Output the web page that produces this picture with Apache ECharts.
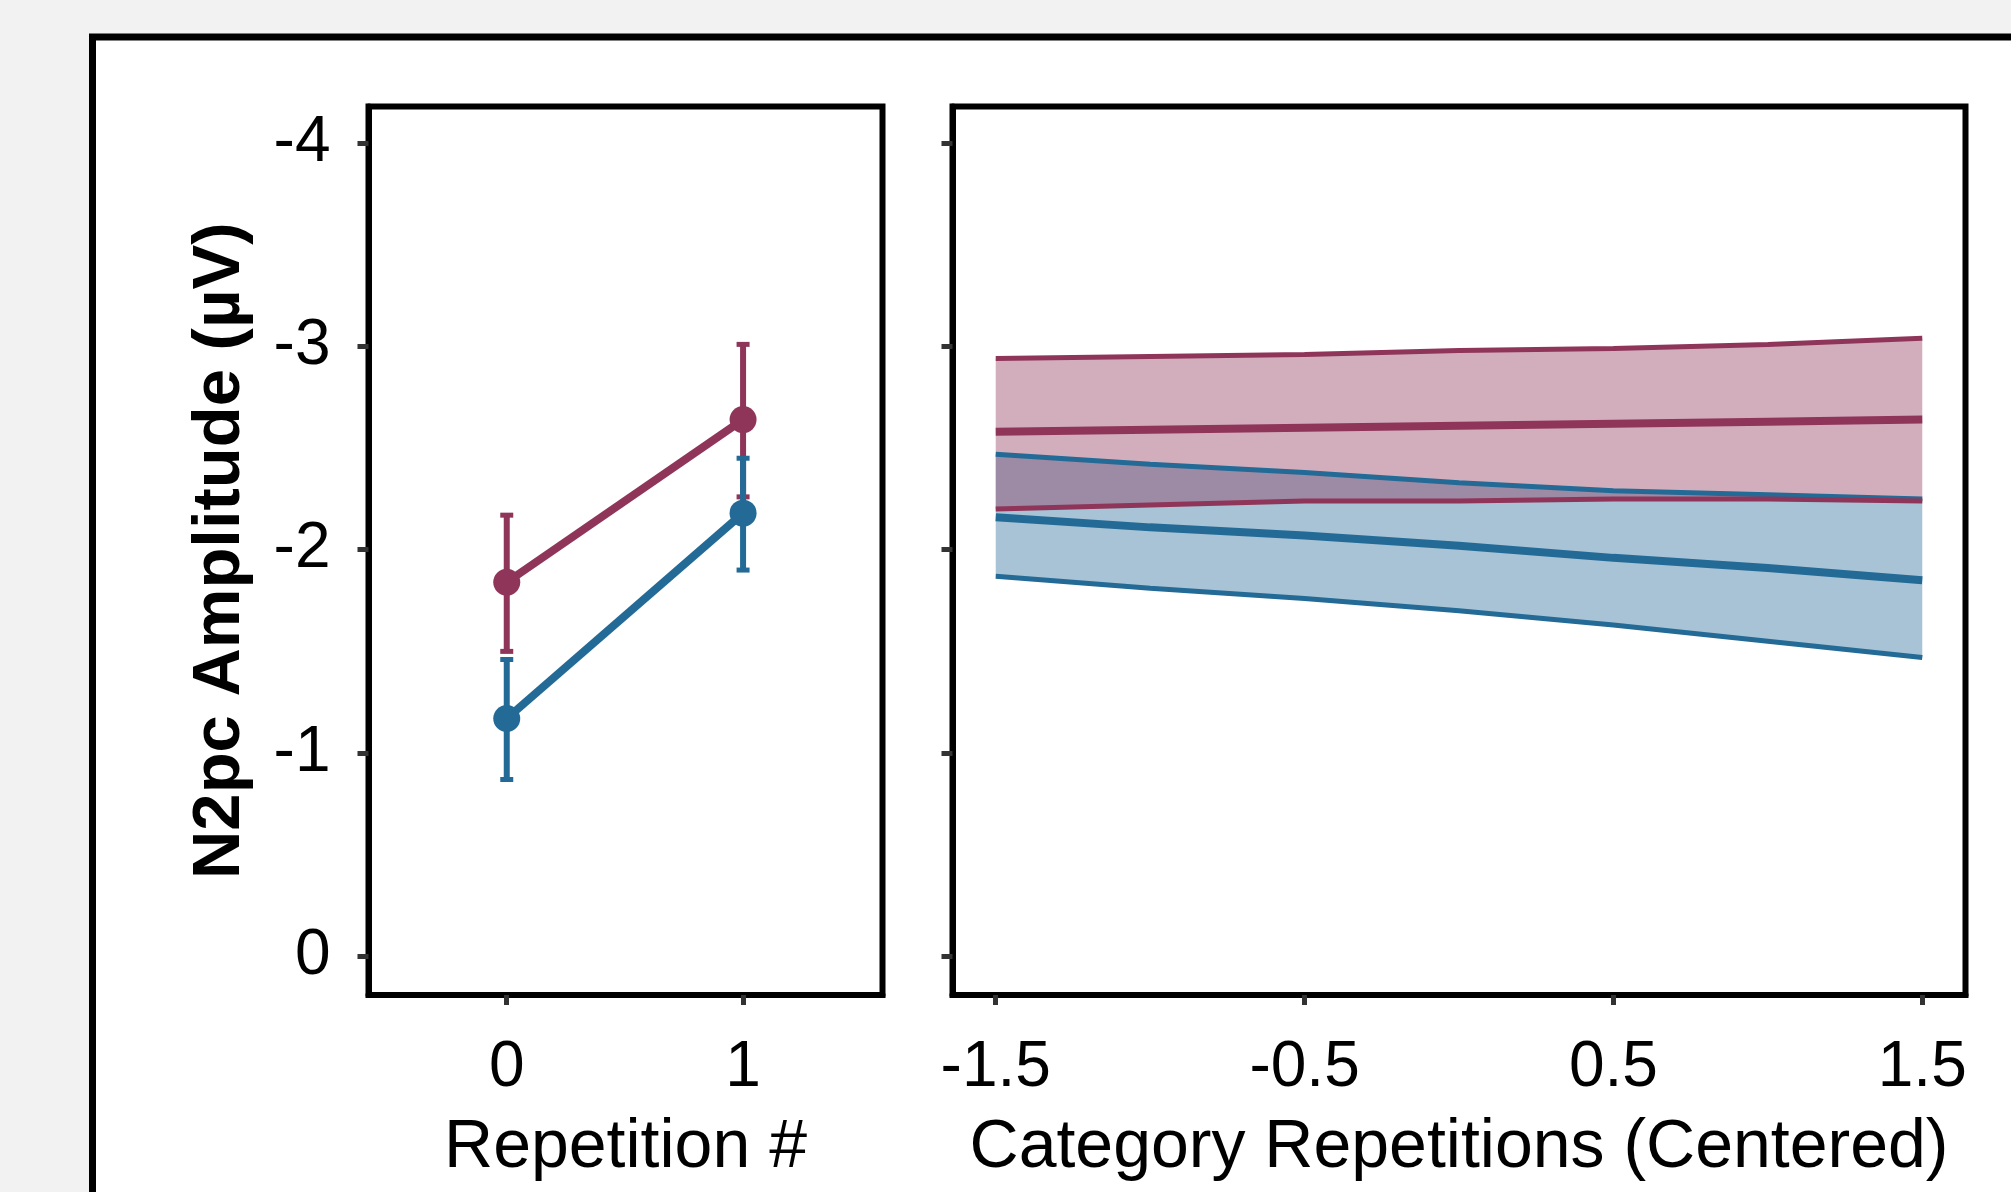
<!DOCTYPE html>
<html>
<head>
<meta charset="utf-8">
<script src="https://cdn.jsdelivr.net/npm/echarts@6/dist/echarts.min.js"></script>
<style>
  html, body { margin: 0; padding: 0; background: #f2f2f2; }
  #main { width: 2011px; height: 1192px; }
</style>
</head>
<body>
<div id="main"></div>
<script>
// left panel: N2pc by repetition (mean with error bars)
var repetition = [0, 1];
var redMean = [-1.84, -2.64];
var redErrHigh = [-2.17, -3.01];
var redErrLow = [-1.50, -2.26];
var blueMean = [-1.17, -2.18];
var blueErrHigh = [-1.46, -2.45];
var blueErrLow = [-0.87, -1.90];

// right panel: model fits over centered category repetitions
var centered = [-1.5, -1, -0.5, 0, 0.5, 1, 1.5];
var redFitUpper = [-2.94, -2.95, -2.96, -2.98, -2.99, -3.01, -3.04];
var redFit = [-2.58, -2.59, -2.60, -2.61, -2.62, -2.63, -2.64];
var redFitLower = [-2.20, -2.22, -2.24, -2.24, -2.25, -2.25, -2.24];
var blueFitUpper = [-2.47, -2.42, -2.38, -2.33, -2.29, -2.27, -2.25];
var blueFit = [-2.16, -2.11, -2.07, -2.02, -1.96, -1.91, -1.85];
var blueFitLower = [-1.87, -1.81, -1.76, -1.70, -1.63, -1.55, -1.47];

var yTicks = [-4, -3, -2, -1, 0];
var leftTicks = [0, 1];
var rightTicks = [-1.5, -0.5, 0.5, 1.5];

var RED = '#8f3559';
var BLUE = '#246a96';
var FONT = 'Liberation Sans';

var myChart = echarts.init(document.getElementById('main'));

var pairs = function(xs, ys) {
    return xs.map(function(x, i) { return [x, ys[i]]; });
};

var bandItem = function(xs, upper, lower, color) {
    return function(params, api) {
        if (params.dataIndex !== 0) {
            return;
        }
        var pts = [];
        for (var i = 0; i < xs.length; i++) {
            pts.push(api.coord([xs[i], upper[i]]));
        }
        for (var j = xs.length - 1; j >= 0; j--) {
            pts.push(api.coord([xs[j], lower[j]]));
        }
        return {
            type: 'polygon',
            shape: { points: pts },
            style: { fill: color, opacity: 0.4 }
        };
    };
};

var errorBarItem = function(color) {
    return function(params, api) {
        var x = api.value(0);
        var lo = api.coord([x, api.value(1)]);
        var hi = api.coord([x, api.value(2)]);
        var half = 6.5;
        return {
            type: 'group',
            children: [{
                type: 'line',
                shape: { x1: lo[0], y1: lo[1], x2: hi[0], y2: hi[1] },
                style: { stroke: color, lineWidth: 6 }
            }, {
                type: 'line',
                shape: { x1: hi[0] - half, y1: hi[1], x2: hi[0] + half, y2: hi[1] },
                style: { stroke: color, lineWidth: 5 }
            }, {
                type: 'line',
                shape: { x1: lo[0] - half, y1: lo[1], x2: lo[0] + half, y2: lo[1] },
                style: { stroke: color, lineWidth: 5 }
            }]
        };
    };
};

var errorData = function(low, high) {
    return repetition.map(function(x, i) { return [x, low[i], high[i]]; });
};

var bandData = function(lower, upper) {
    return centered.map(function(x, i) { return [x, lower[i], upper[i]]; });
};

var tickStyle = { color: '#333', width: 5 };

var yAxisBase = function(idx, showLabels) {
    return {
        type: 'value',
        gridIndex: idx,
        inverse: true,
        min: -4.18,
        max: 0.19,
        axisLine: { show: true, onZero: false, lineStyle: { color: '#000', width: 6 } },
        axisTick: { show: true, length: 11, customValues: yTicks, lineStyle: tickStyle },
        axisLabel: {
            show: showLabels,
            customValues: yTicks,
            margin: 38,
            fontSize: 64,
            color: '#000',
            fontFamily: FONT
        },
        splitLine: { show: false },
        name: showLabels ? 'N2pc Amplitude (\u00b5V)' : '',
        nameLocation: 'middle',
        nameGap: 114,
        nameTextStyle: { fontSize: 67, fontWeight: 'bold', color: '#000', fontFamily: FONT }
    };
};

var xAxisBase = function(idx, min, max, ticks, name) {
    return {
        type: 'value',
        gridIndex: idx,
        min: min,
        max: max,
        axisLine: { show: true, onZero: false, lineStyle: { color: '#000', width: 6 } },
        axisTick: { show: true, length: 10, customValues: ticks, lineStyle: tickStyle },
        axisLabel: {
            customValues: ticks,
            margin: 41,
            fontSize: 64,
            color: '#000',
            fontFamily: FONT
        },
        splitLine: { show: false },
        name: name,
        nameLocation: 'middle',
        nameGap: 119,
        nameTextStyle: { fontSize: 68, color: '#000', fontFamily: FONT }
    };
};

var option = {
    backgroundColor: '#f2f2f2',
    animation: false,
    graphic: [{
        type: 'rect',
        z: -10,
        shape: { x: 92.5, y: 37, width: 3000, height: 3000 },
        style: { fill: '#fff', stroke: '#000', lineWidth: 7 }
    }],
    grid: [{
        left: 368.5, top: 106.5, width: 514, height: 888.5,
        show: true, borderColor: '#000', borderWidth: 6
    }, {
        left: 952.5, top: 106.5, width: 1013, height: 888.5,
        show: true, borderColor: '#000', borderWidth: 6
    }],
    xAxis: [
        xAxisBase(0, -0.585, 1.59, leftTicks, 'Repetition #'),
        xAxisBase(1, -1.64, 1.64, rightTicks, 'Category Repetitions (Centered)')
    ],
    yAxis: [yAxisBase(0, true), yAxisBase(1, false)],
    series: [{
        type: 'custom',
        xAxisIndex: 0, yAxisIndex: 0,
        renderItem: errorBarItem(RED),
        data: errorData(redErrLow, redErrHigh),
        encode: { x: 0, y: [1, 2] }
    }, {
        type: 'line',
        xAxisIndex: 0, yAxisIndex: 0,
        data: pairs(repetition, redMean),
        symbol: 'circle',
        symbolSize: 27,
        lineStyle: { color: RED, width: 8 },
        itemStyle: { color: RED }
    }, {
        type: 'custom',
        xAxisIndex: 0, yAxisIndex: 0,
        renderItem: errorBarItem(BLUE),
        data: errorData(blueErrLow, blueErrHigh),
        encode: { x: 0, y: [1, 2] }
    }, {
        type: 'line',
        xAxisIndex: 0, yAxisIndex: 0,
        data: pairs(repetition, blueMean),
        symbol: 'circle',
        symbolSize: 27,
        lineStyle: { color: BLUE, width: 8 },
        itemStyle: { color: BLUE }
    }, {
        type: 'custom',
        xAxisIndex: 1, yAxisIndex: 1,
        renderItem: bandItem(centered, blueFitUpper, blueFitLower, BLUE),
        data: bandData(blueFitLower, blueFitUpper),
        encode: { x: 0, y: [1, 2] }
    }, {
        type: 'line',
        xAxisIndex: 1, yAxisIndex: 1,
        data: pairs(centered, blueFitUpper),
        showSymbol: false,
        lineStyle: { color: BLUE, width: 5 }
    }, {
        type: 'line',
        xAxisIndex: 1, yAxisIndex: 1,
        data: pairs(centered, blueFitLower),
        showSymbol: false,
        lineStyle: { color: BLUE, width: 5 }
    }, {
        type: 'line',
        xAxisIndex: 1, yAxisIndex: 1,
        data: pairs(centered, blueFit),
        showSymbol: false,
        lineStyle: { color: BLUE, width: 8 }
    }, {
        type: 'custom',
        xAxisIndex: 1, yAxisIndex: 1,
        renderItem: bandItem(centered, redFitUpper, redFitLower, RED),
        data: bandData(redFitLower, redFitUpper),
        encode: { x: 0, y: [1, 2] }
    }, {
        type: 'line',
        xAxisIndex: 1, yAxisIndex: 1,
        data: pairs(centered, redFitUpper),
        showSymbol: false,
        lineStyle: { color: RED, width: 5 }
    }, {
        type: 'line',
        xAxisIndex: 1, yAxisIndex: 1,
        data: pairs(centered, redFitLower),
        showSymbol: false,
        lineStyle: { color: RED, width: 5 }
    }, {
        type: 'line',
        xAxisIndex: 1, yAxisIndex: 1,
        data: pairs(centered, redFit),
        showSymbol: false,
        lineStyle: { color: RED, width: 8 }
    }]
};

myChart.setOption(option);
</script>
</body>
</html>
